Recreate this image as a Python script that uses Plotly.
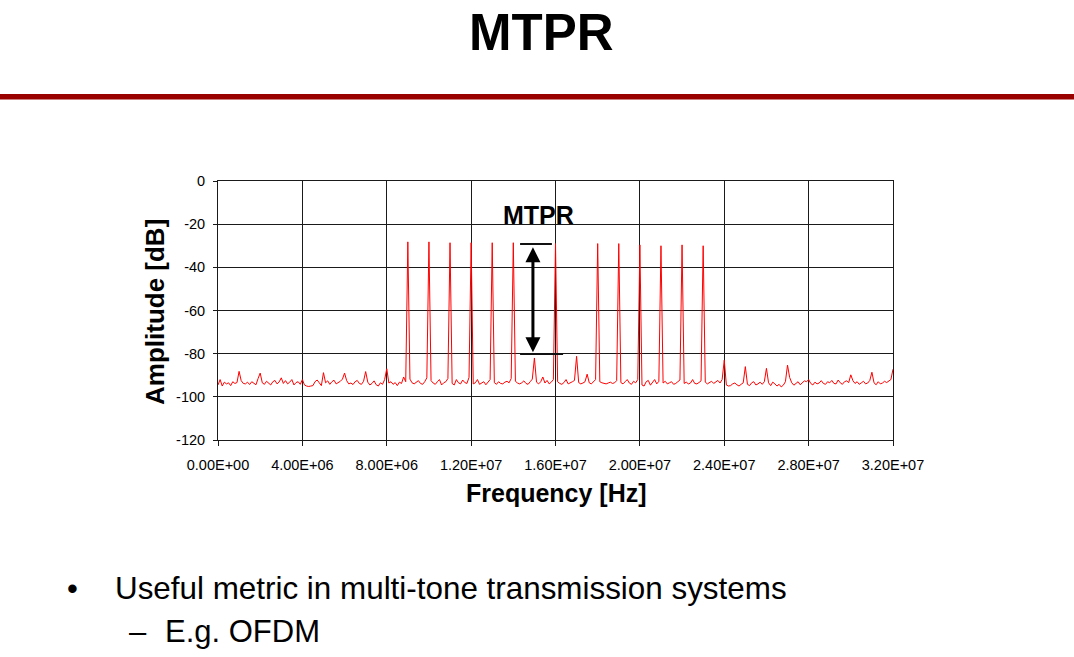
import plotly.graph_objects as go

# ---------------- data ----------------
freq_start_hz = 0.0
freq_step_hz = 1e5

# noise floor, one value per 0.1 MHz bin (0 .. 32 MHz), dB
noise_floor_db = [
    -94.5, -92.0, -95.0, -93.2, -94.0, -93.5, -94.8, -93.0, -93.8, -93.4,
    -88.2, -92.5, -93.8, -94.0, -93.2, -94.3, -93.0, -93.9, -94.4, -91.5,
    -89.0, -93.5, -94.2, -92.8, -93.6, -94.5, -93.0, -92.4, -94.0, -93.1,
    -91.2, -93.8, -92.5, -94.0, -93.2, -92.0, -94.5, -93.4, -93.0, -94.2,
    -92.0, -94.5, -95.0, -95.2, -95.0, -94.8, -93.0, -92.2, -93.5, -94.8,
    -88.8, -93.5, -92.6, -94.2, -93.0, -92.3, -94.0, -93.5, -92.8, -91.8,
    -89.0, -92.5, -94.0, -93.6, -94.3, -93.0, -92.4, -93.8, -94.2, -92.8,
    -88.3, -93.2, -94.5, -93.8, -92.6, -94.4, -95.0, -93.5, -94.2, -92.0,
    -87.0, -93.6, -93.0, -94.2, -93.4, -94.8, -93.2, -93.8, -90.8, -93.0,
    -93.0, -91.8, -93.5, -94.0, -93.4, -92.5, -93.8, -94.2, -93.0, -91.2,
    -93.0, -92.5, -93.6, -94.2, -93.0, -92.0, -94.5, -93.5, -93.0, -91.5,
    -93.0, -93.8, -94.5, -92.0, -93.5, -94.0, -92.2, -93.4, -93.8, -91.0,
    -93.0, -94.0, -93.5, -92.0, -94.2, -93.6, -93.0, -94.4, -93.2, -92.0,
    -93.0, -93.4, -94.2, -93.0, -93.8, -94.0, -93.2, -92.8, -93.5, -91.5,
    -93.0, -92.8, -93.6, -94.0, -93.5, -92.6, -93.8, -94.2, -93.0, -91.8,
    -82.0, -93.2, -94.0, -93.0, -90.8, -93.6, -92.4, -94.0, -93.2, -92.0,
    -93.0, -93.0, -93.8, -94.2, -93.4, -92.0, -94.0, -93.6, -93.0, -92.4,
    -81.2, -93.4, -94.0, -93.6, -93.0, -89.5, -93.5, -94.0, -93.2, -92.0,
    -93.0, -93.0, -93.5, -93.8, -94.0, -93.6, -93.2, -93.8, -93.5, -92.5,
    -93.0, -93.4, -94.0, -93.0, -92.0, -93.6, -94.2, -92.8, -93.5, -92.0,
    -93.0, -94.5, -95.0, -93.0, -92.4, -94.6, -93.2, -92.0, -94.0, -92.8,
    -93.0, -93.6, -92.8, -94.0, -93.5, -93.0, -94.2, -93.8, -93.0, -92.2,
    -93.0, -93.8, -93.2, -94.0, -93.6, -92.0, -93.8, -94.0, -93.4, -92.6,
    -93.0, -93.2, -94.0, -93.5, -92.8, -93.8, -93.0, -92.4, -93.6, -92.0,
    -83.0, -94.5, -95.0, -94.8, -94.0, -93.6, -94.4, -95.0, -94.2, -93.5,
    -86.0, -94.2, -94.8, -93.5, -93.0, -94.5, -94.0, -93.2, -94.2, -93.0,
    -86.8, -93.5, -94.8, -93.2, -94.0, -95.0, -94.2, -95.4, -94.6, -93.0,
    -85.3, -91.0, -93.5, -94.6, -93.8, -93.0, -94.4, -93.5, -92.6, -93.0,
    -92.0, -93.8, -94.5, -93.2, -94.0, -93.6, -92.5, -93.8, -94.2, -93.0,
    -93.5, -92.4, -93.8, -94.0, -92.2, -93.5, -94.2, -93.0, -92.6, -93.4,
    -89.8, -92.5, -93.8, -93.0, -94.2, -93.5, -92.8, -94.0, -93.6, -92.4,
    -88.6, -93.5, -94.4, -93.0, -94.0, -93.6, -92.8, -93.4, -92.6, -92.0,
    -87.2,
]

# multi-tone carriers
tone_freq_hz = [9e6, 10e6, 11e6, 12e6, 13e6, 14e6, 16e6,
                18e6, 19e6, 20e6, 21e6, 22e6, 23e6]
tone_level_db = [-28.2, -28.2, -28.6, -28.6, -28.6, -28.6, -29.0,
                 -29.0, -29.0, -29.6, -30.0, -29.6, -30.0]

# MTPR marker levels
mtpr_top_db = -29.2
mtpr_bottom_db = -80.2

x_tick_vals = [0, 4e6, 8e6, 12e6, 16e6, 20e6, 24e6, 28e6, 32e6]
x_tick_text = ["0.00E+00", "4.00E+06", "8.00E+06", "1.20E+07", "1.60E+07",
               "2.00E+07", "2.40E+07", "2.80E+07", "3.20E+07"]
y_tick_vals = [0, -20, -40, -60, -80, -100, -120]
y_tick_text = ["0", "-20", "-40", "-60", "-80", "-100", "-120"]

title_text = "MTPR"
x_title = "Frequency [Hz]"
y_title = "Amplitude [dB]"
bullet_1 = "Useful metric in multi-tone transmission systems"
bullet_2 = "E.g. OFDM"

# ---------------- build series ----------------
freq_hz = [freq_start_hz + i * freq_step_hz for i in range(len(noise_floor_db))]
amplitude_db = list(noise_floor_db)
for f, lv in zip(tone_freq_hz, tone_level_db):
    amplitude_db[int(round((f - freq_start_hz) / freq_step_hz))] = lv

# ---------------- layout geometry (pixels) ----------------
W, H = 1074, 657
L, R, T, B = 218, 893, 181, 440
PW, PH = R - L, B - T


def px(xp):
    return (xp - L) / PW


def py(yp):
    return (B - yp) / PH


FONT = "Arial, Liberation Sans, sans-serif"

fig = go.Figure()
fig.add_trace(go.Scatter(x=freq_hz, y=amplitude_db, mode="lines",
                         line=dict(color="#ff0000", width=1), hoverinfo="skip",
                         showlegend=False))

fig.update_layout(
    width=W, height=H,
    margin=dict(l=L, r=W - R, t=T, b=H - B, pad=0),
    paper_bgcolor="white", plot_bgcolor="white",
    font=dict(family=FONT, color="black"),
    showlegend=False,
)
fig.update_xaxes(range=[0, 32e6], tickvals=x_tick_vals, ticktext=x_tick_text,
                 showgrid=True, gridcolor="#1a1a1a", gridwidth=1,
                 showline=True, linecolor="#1a1a1a", linewidth=1, mirror=True,
                 ticks="outside", ticklen=5, tickcolor="#1a1a1a",
                 ticklabelstandoff=7,
                 tickfont=dict(size=14.5, family=FONT, color="black"),
                 zeroline=False, fixedrange=True)
fig.update_yaxes(range=[-120, 0], tickvals=y_tick_vals, ticktext=y_tick_text,
                 showgrid=True, gridcolor="#1a1a1a", gridwidth=1,
                 showline=True, linecolor="#1a1a1a", linewidth=1, mirror=True,
                 ticks="outside", ticklen=4, tickcolor="#1a1a1a",
                 ticklabelstandoff=5,
                 tickfont=dict(size=14.5, family=FONT, color="black"),
                 zeroline=False, fixedrange=True)

ann = []
# slide title
ann.append(dict(text="<b>%s</b>" % title_text, x=px(541), y=py(32), xref="paper", yref="paper",
                showarrow=False, xanchor="center", yanchor="middle",
                font=dict(size=51, family=FONT, color="black")))
# axis titles
ann.append(dict(text="<b>%s</b>" % x_title, x=px(556), y=py(493), xref="paper", yref="paper",
                showarrow=False, xanchor="center", yanchor="middle",
                font=dict(size=25, family=FONT, color="black")))
ann.append(dict(text="<b>%s</b>" % y_title, x=px(155), y=py(312), xref="paper", yref="paper",
                showarrow=False, xanchor="center", yanchor="middle", textangle=-90,
                font=dict(size=26, family=FONT, color="black")))
# MTPR label in chart
ann.append(dict(text="<b>MTPR</b>", x=15.2e6, y=-15.6, xref="x", yref="y",
                showarrow=False, xanchor="center", yanchor="middle",
                font=dict(size=25, family=FONT, color="black")))
# double-headed arrow
ann.append(dict(text="", x=14.93e6, y=mtpr_bottom_db + 0.8, ax=14.93e6, ay=mtpr_top_db - 0.8,
                xref="x", yref="y", axref="x", ayref="y", showarrow=True,
                arrowhead=2, startarrowhead=2, arrowside="end+start", arrowsize=1,
                startarrowsize=1, arrowwidth=3, arrowcolor="black", standoff=0, startstandoff=0))
# bullets
ann.append(dict(text="•", x=px(72), y=py(588), xref="paper", yref="paper",
                showarrow=False, xanchor="center", yanchor="middle",
                font=dict(size=31, family=FONT, color="black")))
ann.append(dict(text=bullet_1, x=px(113), y=py(588), xref="paper", yref="paper",
                showarrow=False, xanchor="left", yanchor="middle",
                font=dict(size=31.4, family=FONT, color="black")))
ann.append(dict(text="–", x=px(138), y=py(631), xref="paper", yref="paper",
                showarrow=False, xanchor="center", yanchor="middle",
                font=dict(size=31, family=FONT, color="black")))
ann.append(dict(text=bullet_2, x=px(163), y=py(631), xref="paper", yref="paper",
                showarrow=False, xanchor="left", yanchor="middle",
                font=dict(size=31, family=FONT, color="black")))
fig.update_layout(annotations=ann)

shapes = []
# red rule under the title
shapes.append(dict(type="rect", xref="paper", yref="paper", x0=px(0), x1=px(W),
                   y0=py(99.5), y1=py(94), fillcolor="#990000", line=dict(width=0), layer="above"))
# MTPR caps
shapes.append(dict(type="line", xref="x", yref="y", x0=14.32e6, x1=15.83e6,
                   y0=mtpr_top_db, y1=mtpr_top_db, line=dict(color="#111111", width=2)))
shapes.append(dict(type="line", xref="x", yref="y", x0=14.32e6, x1=16.36e6,
                   y0=mtpr_bottom_db, y1=mtpr_bottom_db, line=dict(color="#111111", width=2)))
fig.update_layout(shapes=shapes)

fig.write_html("out.html")
